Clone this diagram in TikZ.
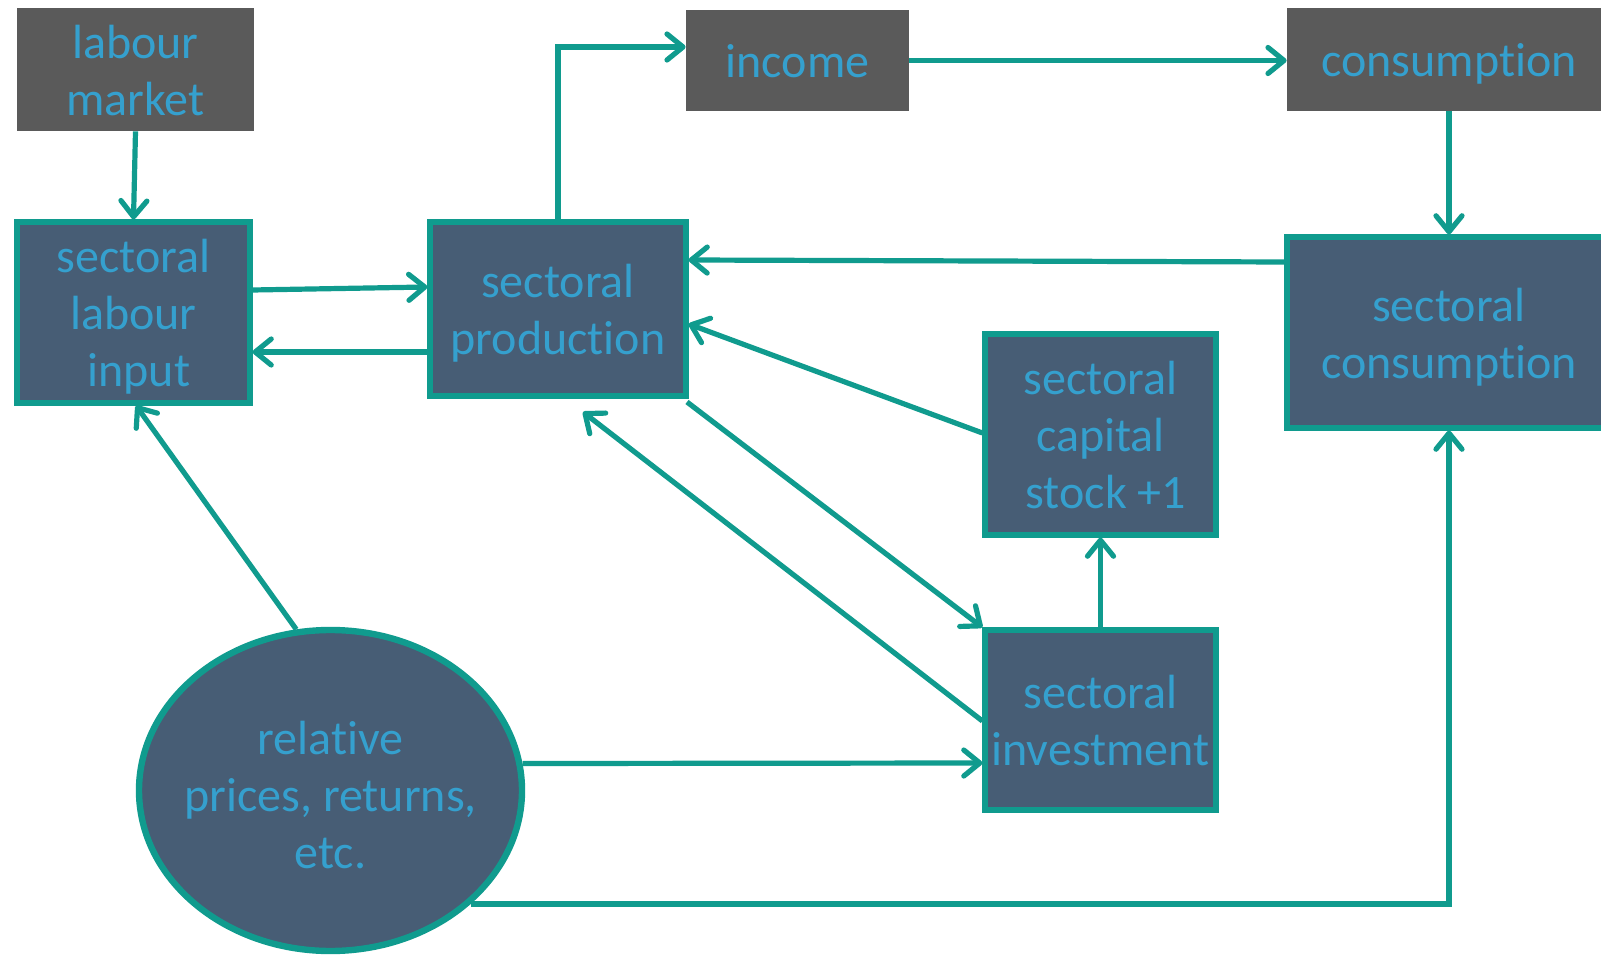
\documentclass[tikz,border=0pt]{standalone}
\usepackage{fontspec}
\setmainfont{Carlito}[Ligatures={NoCommon,NoContextual}]
\usetikzlibrary{arrows.meta,shapes.geometric}
\definecolor{teal1}{RGB}{16,155,142}
\definecolor{slate}{RGB}{71,93,117}
\definecolor{dgray}{RGB}{90,90,90}
\definecolor{tblue}{RGB}{53,160,206}
\newcommand\ls{\rule[-4.3pt]{0pt}{26pt}}
\begin{document}
\begin{tikzpicture}[x=0.5pt,y=-0.5pt,
  txt/.style={text=tblue, font=\fontsize{24pt}{28.5pt}\selectfont, align=center, inner sep=0pt},
  graybox/.style={txt, rectangle, fill=dgray},
  bluebox/.style={txt, rectangle, fill=slate, draw=teal1, line width=2.6pt},
  ellbox/.style={ellipse, fill=slate, draw=teal1, line width=3.2pt, inner sep=0pt},
  arr/.style={draw=teal1, line width=2.6pt, -{Straight Barb[length=8pt,width=13pt,round]}}
]
\clip (0,0) rectangle (1601,956);

% grey boxes
\node[graybox, minimum width=118.5pt, minimum height=61.5pt] (lm) at (135.5,69.5) {\ls labour\\market\ls};
\node[graybox, minimum width=111.5pt, minimum height=50.5pt] (inc) at (797.5,60.5) {\ls income\ls};
\node[graybox, minimum width=162pt, minimum height=51.5pt] (cons) at (1449,59.5) {\ls consumption\ls};

% blue boxes
\node[bluebox, minimum width=116.5pt, minimum height=90.5pt] (li) at (133.5,312.5) {\ls sectoral\\labour\\\ input\ls};
\node[bluebox, minimum width=128pt, minimum height=87pt] (prod) at (558,309) {\ls sectoral\\production\ls};
\node[bluebox, minimum width=115.5pt, minimum height=100.5pt] (cap) at (1100.5,434.5) {\ls sectoral\\capital\\\ stock +1\ls};
\node[bluebox, minimum width=115.5pt, minimum height=90pt] (inv) at (1100.5,720) {\ls sectoral\\investment\ls};
\node[bluebox, minimum width=162pt, minimum height=95.5pt] (scons) at (1449,332.5) {\ls sectoral\\consumption\ls};

% ellipse
\node[ellbox, minimum width=191.5pt, minimum height=160.5pt] (ell) at (330.5,790.5) {};
\node[txt] (elltext) at ([yshift=-2pt]ell.center) {\ls relative\\prices, returns,\\etc.\ls};

% free ends
\coordinate (pbot) at (687,402);
\coordinate (pin) at (583,412);

% connectors
\draw[arr] (lm.south) -- (li.north);
\draw[arr] (li.east |- 0,290) -- (prod.west |- 0,287);
\draw[arr] (prod.west |- 0,352) -- (li.east |- 0,352);
\draw[arr] (prod.north) |- (inc.west |- 0,47);
\draw[arr] (inc.east) -- (cons.west |- inc.east);
\draw[arr] (cons.south) -- (scons.north);
\draw[arr] (scons.west |- 0,262) -- (prod.east |- 0,260);
\draw[arr] (cap.west |- 0,433) -- (prod.east |- 0,324);
\draw[arr] (pbot) -- (inv.north west);
\draw[arr] (inv.west |- 0,721) -- (pin);
\draw[arr] (inv.north) -- (cap.south);
\draw[arr] (ell.102.5) -- (li.south -| 136,0);
\draw[arr] (ell.8.9) -- (inv.west |- 0,763);
\draw[arr] (ell.-39.5) -| (scons.south);
\end{tikzpicture}
\end{document}
